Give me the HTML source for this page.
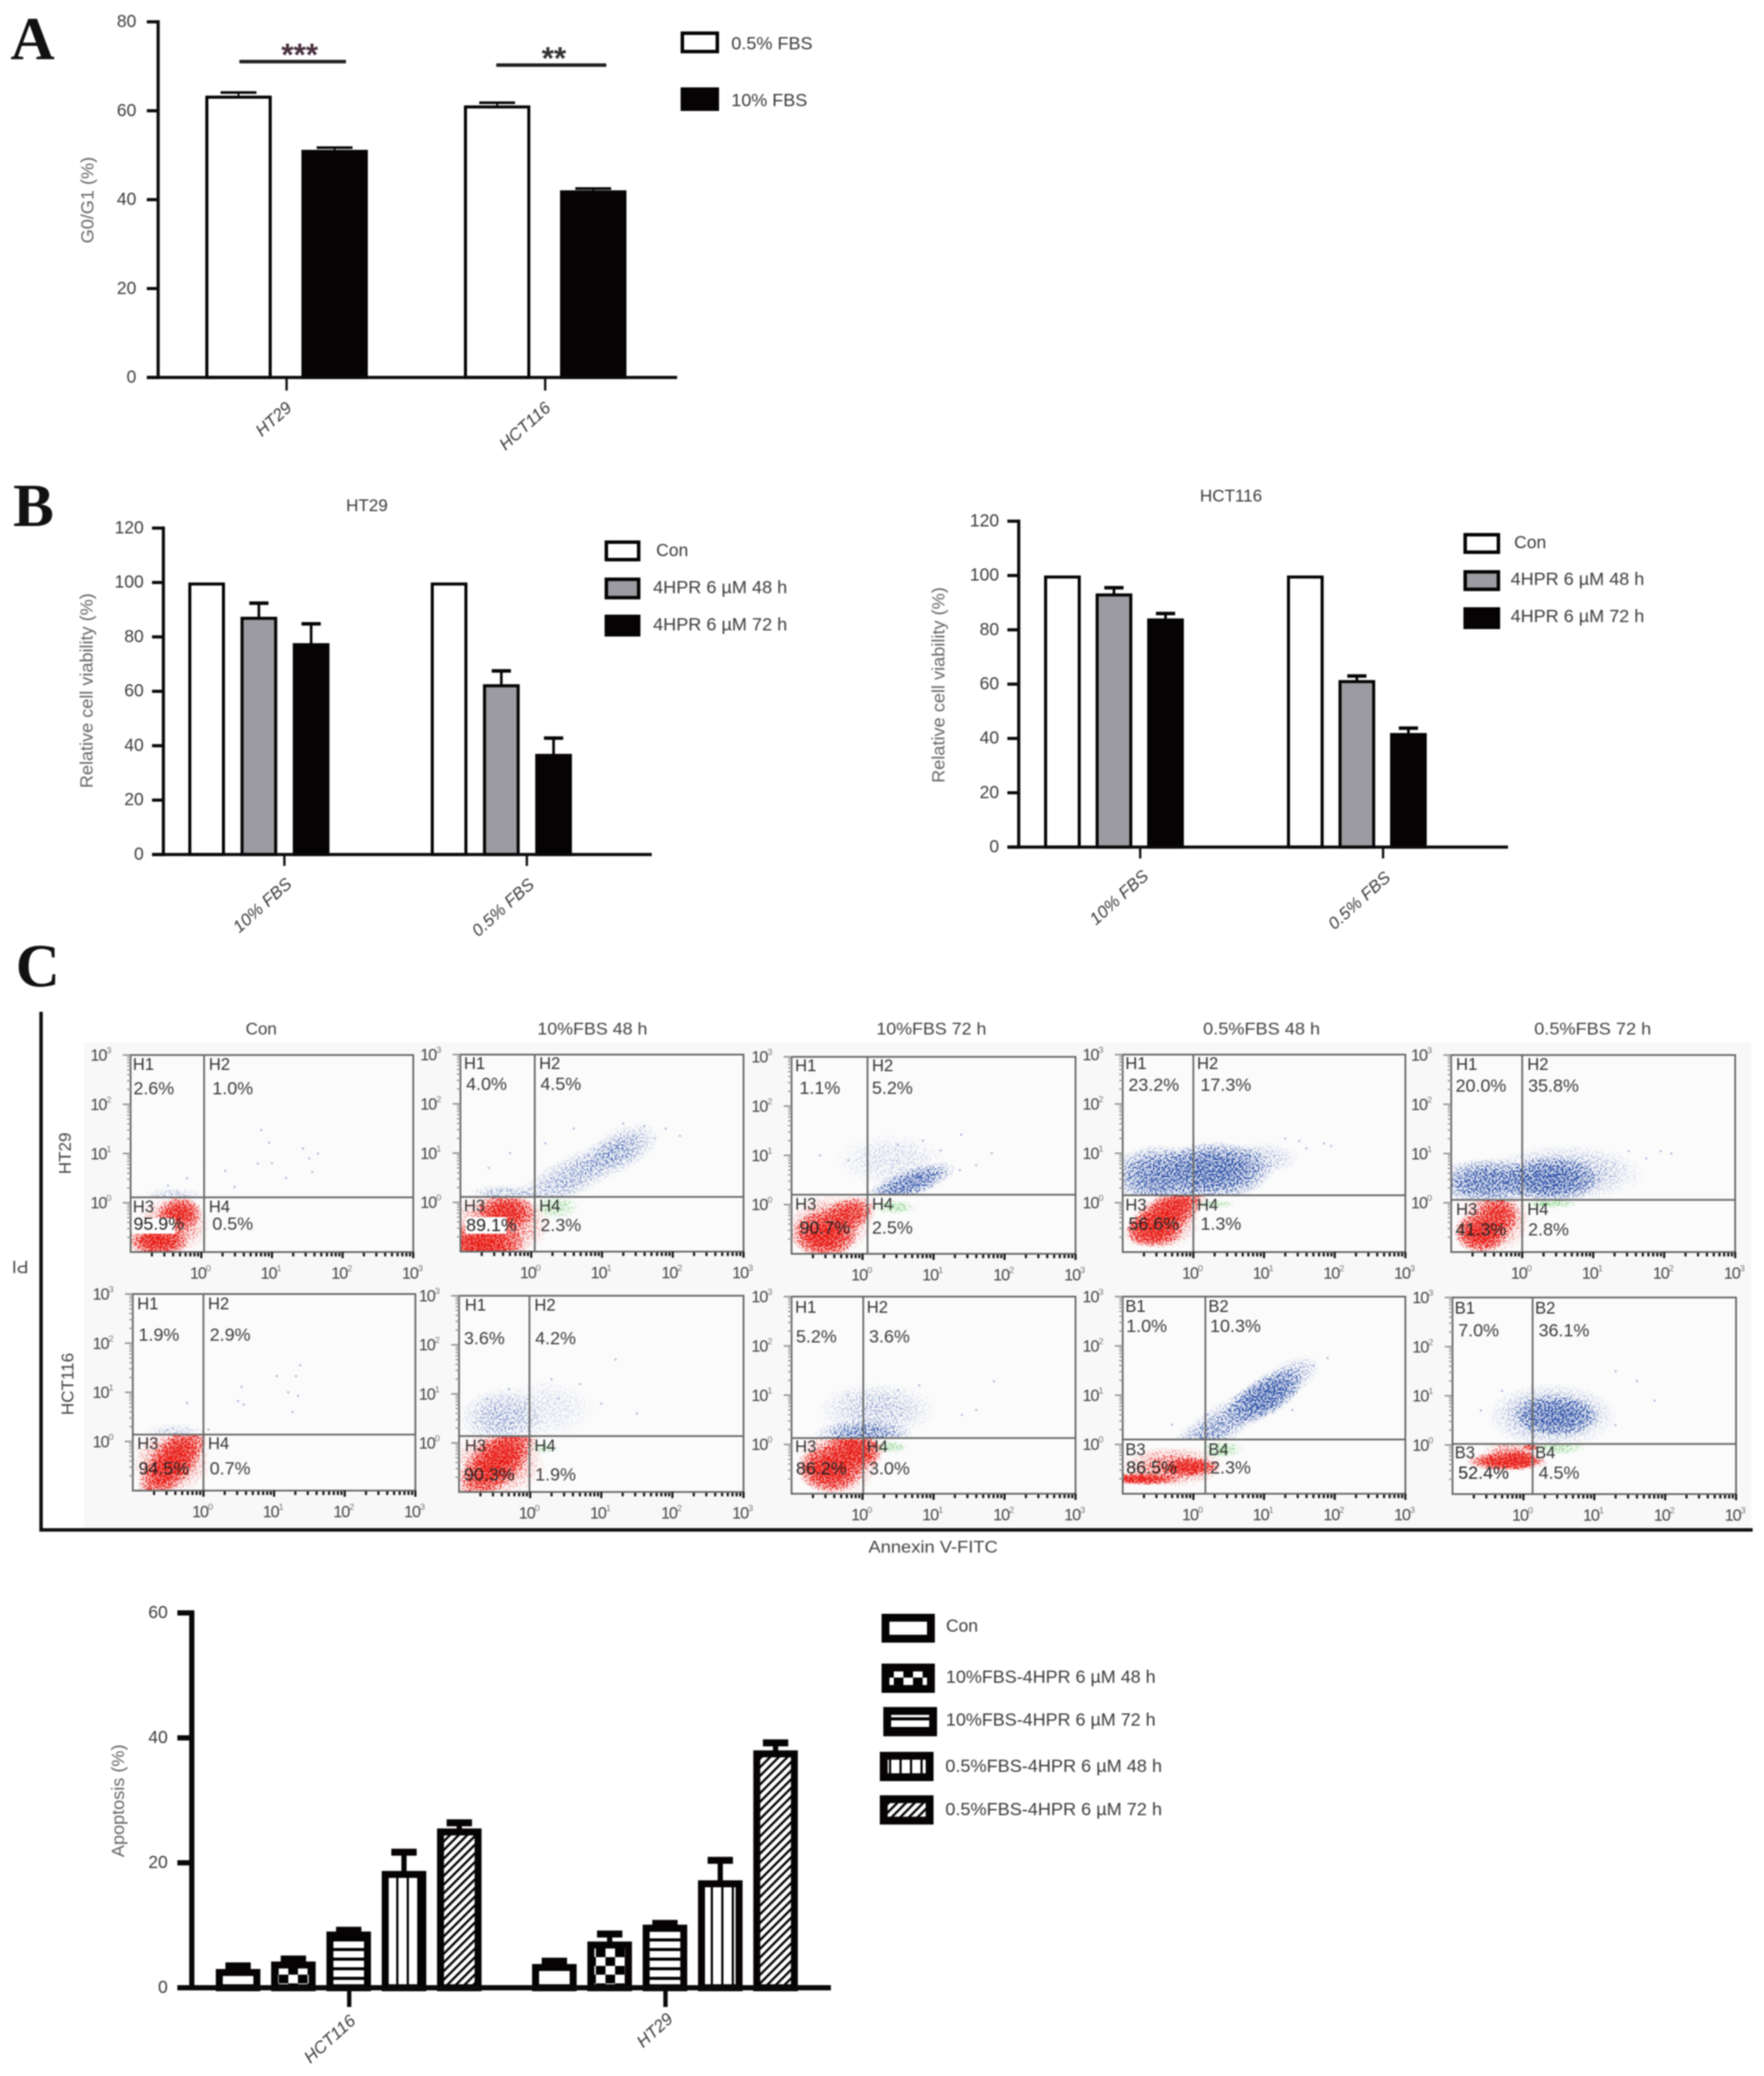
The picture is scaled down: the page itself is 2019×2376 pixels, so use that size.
<!DOCTYPE html>
<html lang="en">
<head>
<meta charset="utf-8">
<title>Cell cycle, viability and apoptosis figure</title>
<style>
html,body{margin:0;padding:0;background:#fff;}
#figure{display:block;filter:blur(0.7px);font-family:"Liberation Sans",sans-serif;}
</style>
</head>
<body>
<svg id="figure" xmlns="http://www.w3.org/2000/svg" width="2019" height="2376" viewBox="0 0 2019 2376">
<defs>
  <radialGradient id="cloud-fade"><stop offset="0" stop-color="#000" stop-opacity="1"/><stop offset="0.35" stop-color="#000" stop-opacity="0.85"/><stop offset="0.7" stop-color="#000" stop-opacity="0.35"/><stop offset="1" stop-color="#000" stop-opacity="0"/></radialGradient>
  <filter id="speckle-red" x="-5%" y="-5%" width="110%" height="110%" color-interpolation-filters="sRGB">
    <feTurbulence type="fractalNoise" baseFrequency="0.55" numOctaves="2" seed="4" result="n"/>
    <feColorMatrix in="n" type="matrix" values="0 0 0 0 0 0 0 0 0 0 0 0 0 0 0 4.5 0 0 0 -2" result="na"/>
    <feComposite in="SourceAlpha" in2="na" operator="arithmetic" k1="3" k2="0.8" k3="0" k4="-0.2" result="mask"/>
    <feFlood flood-color="#e8150f" result="c"/><feComposite in="c" in2="mask" operator="in"/>
  </filter>
  <filter id="speckle-blue" x="-5%" y="-5%" width="110%" height="110%" color-interpolation-filters="sRGB">
    <feTurbulence type="fractalNoise" baseFrequency="0.5" numOctaves="2" seed="9" result="n"/>
    <feColorMatrix in="n" type="matrix" values="0 0 0 0 0 0 0 0 0 0 0 0 0 0 0 5 0 0 0 -2.3" result="na"/>
    <feComposite in="SourceAlpha" in2="na" operator="arithmetic" k1="2.6" k2="0.3" k3="0" k4="-0.08" result="mask"/>
    <feFlood flood-color="#2a4ea6" result="c"/><feComposite in="c" in2="mask" operator="in"/>
  </filter>
  <filter id="speckle-green" x="-5%" y="-5%" width="110%" height="110%" color-interpolation-filters="sRGB">
    <feTurbulence type="fractalNoise" baseFrequency="0.5" numOctaves="2" seed="2" result="n"/>
    <feColorMatrix in="n" type="matrix" values="0 0 0 0 0 0 0 0 0 0 0 0 0 0 0 5 0 0 0 -2.3" result="na"/>
    <feComposite in="SourceAlpha" in2="na" operator="arithmetic" k1="2.6" k2="0.3" k3="0" k4="-0.08" result="mask"/>
    <feFlood flood-color="#8fd68f" result="c"/><feComposite in="c" in2="mask" operator="in"/>
  </filter>
  <pattern id="fill-check" patternUnits="userSpaceOnUse" width="22" height="20"><rect width="22" height="20" fill="#000"/><rect width="11" height="10" fill="#fff"/><rect x="11" y="10" width="11" height="10" fill="#fff"/></pattern>
  <pattern id="fill-hlines" patternUnits="userSpaceOnUse" width="11" height="11"><rect width="11" height="11" fill="#fff"/><rect y="7.5" width="11" height="3.5" fill="#000"/></pattern>
  <pattern id="fill-vlines" patternUnits="userSpaceOnUse" width="12" height="12"><rect width="12" height="12" fill="#fff"/><rect x="9.5" width="2.5" height="12" fill="#000"/></pattern>
  <pattern id="fill-diag" patternUnits="userSpaceOnUse" width="7" height="7" patternTransform="rotate(45)"><rect width="7" height="7" fill="#fff"/><rect width="2.6" height="7" fill="#000"/></pattern>
</defs>

<rect width="2019" height="2376" fill="#fff"/>

<text x="12" y="68" font-family="'Liberation Serif',serif" font-weight="700" font-size="70" fill="#111">A</text>
<text x="15" y="602" font-family="'Liberation Serif',serif" font-weight="700" font-size="70" fill="#111">B</text>
<text x="18" y="1129" font-family="'Liberation Serif',serif" font-weight="700" font-size="70" fill="#111">C</text>

<g>
  <rect x="274" y="68.5" width="122" height="4" fill="#222"/>
  <text x="343" y="75" text-anchor="middle" font-weight="700" font-size="36" fill="#4a3040">***</text>
  <rect x="568" y="72.5" width="126" height="4" fill="#222"/>
  <text x="634" y="79" text-anchor="middle" font-weight="700" font-size="36" fill="#333">**</text>
</g>

<g>
  <rect x="96" y="1193" width="1908" height="556" fill="#f8f8f8"/>
  <rect x="45" y="1158" width="4" height="595" fill="#111"/>
  <rect x="47" y="1749" width="1959" height="4" fill="#111"/>
  <text x="1068" y="1771" text-anchor="middle" dominant-baseline="central" font-size="19.5" textLength="148" lengthAdjust="spacingAndGlyphs" fill="#444">Annexin V-FITC</text>
  <text transform="rotate(180 23 1449)" x="23" y="1449" text-anchor="middle" dominant-baseline="central" font-size="20" fill="#444">PI</text>
  <text transform="rotate(-90 75 1320)" x="75" y="1320" text-anchor="middle" dominant-baseline="central" font-size="19.5" fill="#444">HT29</text>
  <text transform="rotate(-90 78 1584)" x="78" y="1584" text-anchor="middle" dominant-baseline="central" font-size="19.5" fill="#444">HCT116</text>
  <text x="299" y="1178" text-anchor="middle" dominant-baseline="central" font-size="19.5" fill="#444">Con</text>
  <text x="678" y="1178" text-anchor="middle" dominant-baseline="central" font-size="19.5" textLength="126" lengthAdjust="spacingAndGlyphs" fill="#444">10%FBS 48 h</text>
  <text x="1066" y="1178" text-anchor="middle" dominant-baseline="central" font-size="19.5" textLength="126" lengthAdjust="spacingAndGlyphs" fill="#444">10%FBS 72 h</text>
  <text x="1444" y="1178" text-anchor="middle" dominant-baseline="central" font-size="19.5" textLength="134" lengthAdjust="spacingAndGlyphs" fill="#444">0.5%FBS 48 h</text>
  <text x="1823" y="1178" text-anchor="middle" dominant-baseline="central" font-size="19.5" textLength="134" lengthAdjust="spacingAndGlyphs" fill="#444">0.5%FBS 72 h</text>
</g>
</svg>

<script>
/* ---------- Panel A data ---------- */
const aCategories = ['HT29', 'HCT116'];
const aSeriesNames = ['0.5% FBS', '10% FBS'];
const aValues05 = [63.4, 61.2];
const aValues10 = [51.2, 42.1];
const aErrors05 = [0.7, 0.6];
const aErrors10 = [0.5, 0.4];
const aTickLabels = [0, 20, 40, 60, 80];

/* ---------- Panel B data ---------- */
const viabilityCategories = ['10% FBS', '0.5% FBS'];
const viabilitySeriesNames = ['Con', '4HPR 6 µM 48 h', '4HPR 6 µM 72 h'];
const viabilityTickLabels = [0, 20, 40, 60, 80, 100, 120];
const ht29Con = [100, 100];
const ht2948h = [87.4, 62.6];
const ht2972h = [77.7, 37];
const ht29ConErr = [0, 0];
const ht2948hErr = [5, 4.9];
const ht2972hErr = [7.1, 5.8];
const hct116Con = [100, 100];
const hct11648h = [93.4, 61.5];
const hct11672h = [84.2, 42];
const hct116ConErr = [0, 0];
const hct11648hErr = [2.1, 1.5];
const hct11672hErr = [1.8, 1.8];

/* ---------- Apoptosis chart data ---------- */
const apoCategories = ['HCT116', 'HT29'];
const apoSeriesNames = ['Con', '10%FBS-4HPR 6 µM 48 h', '10%FBS-4HPR 6 µM 72 h', '0.5%FBS-4HPR 6 µM 48 h', '0.5%FBS-4HPR 6 µM 72 h'];
const apoTickLabels = [0, 20, 40, 60];
const apoCon = [3.0, 3.8];
const apo10F48 = [4.2, 7.4];
const apo10F72 = [9.0, 10.1];
const apo05F48 = [18.7, 17.2];
const apo05F72 = [25.5, 38.0];
const apoConErr = [0.5, 0.45];
const apo10F48Err = [0.4, 1.2];
const apo10F72Err = [0.2, 0.2];
const apo05F48Err = [3.0, 3.2];
const apo05F72Err = [0.9, 1.2];

/* ---------- Flow cytometry data (log10 units, percentages) ---------- */
const flowGateX = [0.04, 0.05, 0.07, 0, 0, 0, -0.01, 0.01, 0.17, 0.13];
const flowGateY = [0.11, 0.11, 0.2, 0.15, 0.06, 0.14, 0.14, 0.13, 0.1, 0.02];
const flowGateNames = [
  ['H1','H2','H3','H4'],['H1','H2','H3','H4'],['H1','H2','H3','H4'],['H1','H2','H3','H4'],['H1','H2','H3','H4'],
  ['H1','H2','H3','H4'],['H1','H2','H3','H4'],['H1','H2','H3','H4'],['B1','B2','B3','B4'],['B1','B2','B3','B4']
];
const flowPercents = [
  ['2.6%','1.0%','95.9%','0.5%'],['4.0%','4.5%','89.1%','2.3%'],['1.1%','5.2%','90.7%','2.5%'],['23.2%','17.3%','56.6%','1.3%'],['20.0%','35.8%','41.3%','2.8%'],
  ['1.9%','2.9%','94.5%','0.7%'],['3.6%','4.2%','90.3%','1.9%'],['5.2%','3.6%','86.2%','3.0%'],['1.0%','10.3%','86.5%','2.3%'],['7.0%','36.1%','52.4%','4.5%']
];
const flowTickLabels = [0, 1, 2, 3];
/* each cloud: centre log x, centre log y, spread x, spread y (decades), tilt deg, density */
const flowRedClouds = [
  [[-0.62,-0.78,0.45,0.34,0,1],[-0.3,-0.2,0.32,0.34,0,0.85],[-0.4,-0.45,0.62,0.7,0,0.36]],
  [[-0.68,-0.86,0.62,0.48,0,1],[-0.35,-0.19,0.44,0.36,0,0.9],[-0.45,-0.45,0.85,0.8,0,0.38]],
  [[-0.54,-0.62,0.48,0.5,0,1],[-0.2,-0.2,0.44,0.36,-20,0.7],[-0.45,-0.4,0.72,0.72,0,0.36]],
  [[-0.38,-0.24,0.72,0.42,-35,1],[-0.55,-0.55,0.42,0.38,0,0.9],[-0.4,-0.4,0.62,0.68,0,0.3]],
  [[-0.59,-0.62,0.4,0.42,0,1],[-0.35,-0.25,0.32,0.4,0,0.7],[-0.4,-0.35,0.62,0.82,0,0.36]],
  [[-0.44,-0.42,0.72,0.44,-50,1],[-0.45,-0.4,0.68,0.82,0,0.34]],
  [[-0.47,-0.38,0.74,0.5,-45,1],[-0.45,-0.4,0.8,0.85,0,0.34]],
  [[-0.45,-0.5,0.48,0.5,0,1],[-0.12,-0.13,0.44,0.44,0,0.95],[-0.35,-0.35,0.7,0.85,0,0.36]],
  [[-0.75,-0.7,0.6,0.13,0,1],[-0.06,-0.46,0.44,0.2,0,1],[-0.3,-0.45,0.88,0.5,0,0.36]],
  [[-0.23,-0.34,0.62,0.2,0,1],[-0.05,-0.3,0.26,0.2,0,1],[-0.2,-0.2,0.48,0.34,0,0.36],[0.1,-0.05,0.14,0.08,0,0.7]]
];
const flowBlueClouds = [
  [[-0.4,0.17,0.5,0.16,0,0.2]],
  [[0.6,0.55,1.1,0.48,-27,0.3],[1.3,1.1,0.62,0.5,-27,0.28],[-0.4,0.2,0.55,0.18,0,0.25]],
  [[0.66,0.42,0.72,0.3,-20,0.7],[0.4,0.9,1.0,0.7,0,0.14]],
  [[0.3,0.65,0.85,0.62,0,0.95],[-0.5,0.55,0.74,0.66,0,0.7],[1.0,0.9,0.6,0.4,0,0.2]],
  [[0.4,0.47,0.72,0.46,0,1],[-0.5,0.43,0.8,0.5,0,0.7],[0.6,0.6,1.25,0.66,0,0.3]],
  [[-0.4,0.2,0.5,0.2,0,0.18]],
  [[-0.45,0.5,0.66,0.66,0,0.24],[0.2,0.7,1.0,0.8,0,0.12]],
  [[0,0.2,0.74,0.3,0,0.5],[0.2,0.7,1.0,0.66,0,0.22]],
  [[1.0,0.95,0.62,0.42,-30,0.95],[0.3,0.3,1.1,0.45,-35,0.4],[1.3,1.3,0.62,0.4,-30,0.34]],
  [[0.46,0.6,0.62,0.42,0,1],[0.4,0.6,1.0,0.72,0,0.38]]
];
const flowGreenClouds = [
  [], [[0.35,-0.1,0.36,0.26,0,0.5]], [[0.45,-0.05,0.32,0.16,0,0.6]], [[0.3,-0.03,0.34,0.1,0,0.45]], [[0.4,-0.02,0.42,0.1,0,0.65]],
  [], [[0.2,-0.1,0.24,0.14,0,0.4]], [[0.4,-0.05,0.26,0.14,0,0.6]], [[0.4,-0.1,0.36,0.2,0,0.5]], [[0.5,-0.05,0.42,0.16,0,0.55]]
];
/* sparse events: log x, log y */
const flowSparseEvents = [
  [[0.85,1.48],[0.96,1.22],[1.44,1.1],[1.65,1.0],[1.53,0.9],[1.57,0.62],[1.0,0.8],[0.8,0.8],[0.34,0.65],[0.47,0.32],[1.2,0.5],[0.04,0.8],[-0.2,0.5],[-0.47,0.35]],
  [[1.9,1.5],[1.75,1.3],[1.6,1.55],[1.3,1.6],[2.1,1.35],[0.6,1.5],[-0.3,1.0],[0.2,1.2],[-0.6,0.7]],
  [[1.82,1.04],[1.39,1.42],[1.37,0.7],[0.85,1.3],[0.5,1.2],[-0.2,0.9],[-0.6,1.0],[1.6,0.8],[1.1,1.1]],
  [[1.85,1.2],[1.95,1.15],[1.6,1.1],[1.5,1.25],[1.3,1.3]],
  [[2.1,1.0],[1.95,1.05],[1.75,0.9],[1.5,1.05],[1.3,0.8]],
  [[1.04,1.33],[1.37,1.55],[1.31,1.33],[1.2,1.0],[1.34,0.93],[1.26,0.6],[0.54,1.11],[0.57,0.75],[0.49,0.82],[-0.23,0.78],[0.07,0.24]],
  [[1.2,1.7],[0.7,1.2],[0.4,0.9],[-0.3,1.1],[-0.6,0.9],[1.0,0.8],[0.3,1.3],[1.5,0.6]],
  [[1.85,1.28],[1.6,0.7],[1.4,0.6],[0.8,1.2],[0.5,1.1],[-0.2,1.0]],
  [[1.9,1.75],[1.7,1.6],[0.2,0.6],[-0.3,0.4],[1.4,0.7]],
  [[1.6,1.3],[1.85,0.9],[1.3,1.5],[-0.3,1.1],[-0.6,0.7],[1.3,0.4]]
];

/* ---------- Layout (geometry only) ---------- */
const flowFrames = [
  {l:149.5,t:1207.5,r:473,b:1433},{l:527,t:1207,r:851,b:1432.5},{l:906,t:1209.6,r:1231,b:1435},{l:1285,t:1207,r:1608.5,b:1433},{l:1661,t:1207.5,r:1986,b:1433},
  {l:152,t:1481,r:475.4,b:1706},{l:525.4,t:1483,r:851,b:1707.6},{l:906,t:1484,r:1231,b:1709.6},{l:1285,t:1484,r:1608.5,b:1709.6},{l:1662.5,t:1485,r:1987,b:1710}
];
const flowTextLayout = [
  {nl:152,nr:239,pl:152.7,pr:243,y1:1219,y2:1246,y3:1382,y4:1401},
  {nl:531,nr:617,pl:533.5,pr:618.5,y1:1218,y2:1241,y3:1381,y4:1402.6},
  {nl:910,nr:998,pl:915,pr:998,y1:1220.6,y2:1245.5,y3:1379,y4:1405.5},
  {nl:1288,nr:1370,pl:1291.5,pr:1374,y1:1218,y2:1242,y3:1380,y4:1401},
  {nl:1666.5,nr:1748,pl:1666,pr:1749,y1:1219,y2:1243,y3:1385,y4:1407.5},
  {nl:157,nr:238,pl:158.5,pr:240,y1:1493,y2:1528,y3:1653,y4:1681},
  {nl:532,nr:611.6,pl:531,pr:612.5,y1:1494.5,y2:1532,y3:1655.7,y4:1688},
  {nl:910,nr:992,pl:911,pr:994.6,y1:1497,y2:1530,y3:1656.5,y4:1681},
  {nl:1288,nr:1383,pl:1289,pr:1385,y1:1496,y2:1518,y3:1660,y4:1680},
  {nl:1665,nr:1757,pl:1669,pr:1761,y1:1498,y2:1523,y3:1663.5,y4:1686}
];
/* white label backings that cut into the red population in the first two plots */
const flowLabelBackings = {
  0: {x: 152, y: 1394, w: 48, h: 18},
  1: {x: 533, y: 1393, w: 47, h: 19}
};

const svg = document.getElementById('figure');
const NS = 'http://www.w3.org/2000/svg';

function mk(tag, attrs, parent, content) {
  const node = document.createElementNS(NS, tag);
  for (const k in attrs) node.setAttribute(k, attrs[k]);
  if (content !== undefined) node.textContent = content;
  parent.appendChild(node);
  return node;
}

function drawBarChart(cfg) {
  const g = mk('g', {}, svg);
  
  
  const yPx = v => cfg.y0 - (v / cfg.max) * (cfg.y0 - cfg.yTop);
  const barLeft = (gi, si) => cfg.x0 + gi * cfg.groupStep + si * cfg.barStep;
  const half = cfg.sw / 2;

  cfg.series.forEach((s, si) => {
    s.values.forEach((v, gi) => {
      const left = barLeft(gi, si);
      const top = yPx(v);
      const e = s.errors[gi];
      if (e > 0) {
        const errLine = mk('rect', {x: left + cfg.barW / 2 - cfg.errW / 2, y: yPx(v + e), width: cfg.errW, height: Math.max(0, top - yPx(v + e) + 2), fill: '#060304'}, g);
        
        
        const errCap = mk('rect', {x: left + cfg.barW / 2 - cfg.capW / 2, y: yPx(v + e) - cfg.capH / 2, width: cfg.capW, height: cfg.capH, fill: '#060304'}, g);
        
        
      }
      const bar = mk('rect', {x: left + half, y: top + half, width: cfg.barW - cfg.sw, height: Math.max(0, cfg.y0 - top - half), fill: s.fill, stroke: '#060304', 'stroke-width': cfg.sw}, g);
      
      
    });
  });

  const yAxis = mk('rect', {x: cfg.axisX - cfg.axisW / 2, y: cfg.yTop - cfg.axisW / 2, width: cfg.axisW, height: cfg.y0 - cfg.yTop + cfg.axisW, fill: '#0a0a0a'}, g);
  
  
  const xAxis = mk('rect', {x: cfg.xStart, y: cfg.y0 - cfg.axisW / 2, width: cfg.xEnd - cfg.xStart, height: cfg.axisW, fill: '#0a0a0a'}, g);
  
  

  cfg.ticks.forEach(t => {
    const tick = mk('rect', {x: cfg.xStart, y: yPx(t) - cfg.axisW / 2, width: cfg.axisX - cfg.xStart, height: cfg.axisW, fill: '#0a0a0a'}, g);
    
    
    const label = mk('text', {x: cfg.tickLabelX, y: yPx(t), 'text-anchor': 'end', 'dominant-baseline': 'central', 'font-size': cfg.fontSize, fill: '#3c3c3c'}, g, String(t));
    
    
  });

  cfg.categories.forEach((c, gi) => {
    const tx = cfg.x0 + gi * cfg.groupStep + cfg.catTickOffset;
    const tick = mk('rect', {x: tx - cfg.axisW / 2 + 0.5, y: cfg.y0, width: cfg.axisW - 1, height: cfg.catTickLen, fill: '#0a0a0a'}, g);
    
    
    const lx = tx + cfg.catLabelDx[gi];
    const ly = cfg.y0 + cfg.catLabelDy[gi];
    const label = mk('text', {x: lx, y: ly, 'text-anchor': 'middle', 'dominant-baseline': 'central', 'font-size': 19.5, 'font-style': 'italic', fill: '#3c3c3c', transform: 'rotate(-42 ' + lx + ' ' + ly + ')'}, g, c);
    
    
  });

  const yt = cfg.yTitle;
  const yTitle = mk('text', {x: yt.x, y: yt.y, 'text-anchor': 'middle', 'dominant-baseline': 'central', 'font-size': 20, fill: '#666', textLength: yt.len, lengthAdjust: 'spacingAndGlyphs', transform: 'rotate(-90 ' + yt.x + ' ' + yt.y + ')'}, g, yt.text);
  
  

  if (cfg.title) {
    const title = mk('text', {x: cfg.title.x, y: cfg.title.y, 'text-anchor': 'middle', 'dominant-baseline': 'central', 'font-size': 19.5, fill: '#3c3c3c'}, g, cfg.title.text);
    
    
  }

  cfg.series.forEach((s, si) => {
    const lg = cfg.legend[si];
    const swatch = mk('rect', {x: lg.x + cfg.legendSw / 2, y: lg.y + cfg.legendSw / 2, width: lg.w - cfg.legendSw, height: lg.h - cfg.legendSw, fill: s.fill, stroke: '#060304', 'stroke-width': cfg.legendSw}, g);
    
    
    const attrs = {x: lg.tx, y: lg.ty, 'dominant-baseline': 'central', 'font-size': cfg.legendFont, fill: '#3c3c3c'};
    if (lg.tw) { attrs.textLength = lg.tw; attrs.lengthAdjust = 'spacingAndGlyphs'; }
    const entry = mk('text', attrs, g, s.name);
    
    
  });
}

drawBarChart({
  name: 'panel-a-g0g1-chart', categories: aCategories, ticks: aTickLabels, max: 80,
  series: [
    {name: aSeriesNames[0], values: aValues05, errors: aErrors05, fill: '#fff'},
    {name: aSeriesNames[1], values: aValues10, errors: aErrors10, fill: '#060304'}
  ],
  x0: 235, barStep: 110, groupStep: 296, barW: 76, sw: 3.5, errW: 2, capW: 41, capH: 3,
  axisX: 181, axisW: 3.6, xStart: 168, xEnd: 775, yTop: 25, y0: 432, tickLabelX: 156, fontSize: 20,
  catTickOffset: 93, catTickLen: 15, catLabelDx: [-14.5, -23], catLabelDy: [48, 56],
  yTitle: {text: 'G0/G1 (%)', x: 101, y: 229, len: 99},
  legendSw: 4, legendFont: 20.5,
  legend: [
    {x: 779, y: 36, w: 44, h: 25, tx: 837, ty: 50, tw: 93},
    {x: 779, y: 100, w: 44, h: 27, tx: 837, ty: 115, tw: 87}
  ]
});

drawBarChart({
  name: 'panel-b-ht29-chart', categories: viabilityCategories, ticks: viabilityTickLabels, max: 120,
  series: [
    {name: viabilitySeriesNames[0], values: ht29Con, errors: ht29ConErr, fill: '#fff'},
    {name: viabilitySeriesNames[1], values: ht2948h, errors: ht2948hErr, fill: '#9b9ba1'},
    {name: viabilitySeriesNames[2], values: ht2972h, errors: ht2972hErr, fill: '#060304'}
  ],
  x0: 215.5, barStep: 59.8, groupStep: 277.5, barW: 42, sw: 3.5, errW: 3, capW: 22, capH: 4,
  axisX: 187, axisW: 3.6, xStart: 174, xEnd: 746, yTop: 604.4, y0: 978, tickLabelX: 164.5, fontSize: 20,
  catTickOffset: 110, catTickLen: 13, catLabelDx: [-25, -27], catLabelDy: [58.5, 61],
  yTitle: {text: 'Relative cell viability (%)', x: 100, y: 790.5, len: 223},
  title: {text: 'HT29', x: 420, y: 579},
  legendSw: 4, legendFont: 20,
  legend: [
    {x: 692, y: 618.5, w: 41, h: 24, tx: 751, ty: 630.5},
    {x: 692, y: 661, w: 41, h: 25, tx: 747.5, ty: 673, tw: 153.5},
    {x: 692, y: 703.5, w: 41, h: 25, tx: 747.5, ty: 715.5, tw: 153.5}
  ]
});

drawBarChart({
  name: 'panel-b-hct116-chart', categories: viabilityCategories, ticks: viabilityTickLabels, max: 120,
  series: [
    {name: viabilitySeriesNames[0], values: hct116Con, errors: hct116ConErr, fill: '#fff'},
    {name: viabilitySeriesNames[1], values: hct11648h, errors: hct11648hErr, fill: '#9b9ba1'},
    {name: viabilitySeriesNames[2], values: hct11672h, errors: hct11672hErr, fill: '#060304'}
  ],
  x0: 1195, barStep: 59, groupStep: 278, barW: 42, sw: 3.5, errW: 3, capW: 22, capH: 4,
  axisX: 1166, axisW: 3.6, xStart: 1153, xEnd: 1726, yTop: 596.5, y0: 969.5, tickLabelX: 1143.5, fontSize: 20,
  catTickOffset: 110, catTickLen: 13, catLabelDx: [-24, -27], catLabelDy: [58, 61.5],
  yTitle: {text: 'Relative cell viability (%)', x: 1075, y: 784, len: 224},
  title: {text: 'HCT116', x: 1409, y: 568},
  legendSw: 4, legendFont: 20,
  legend: [
    {x: 1675, y: 610, w: 42, h: 24, tx: 1733, ty: 621.5},
    {x: 1675, y: 652.5, w: 42, h: 24, tx: 1729, ty: 663.5, tw: 153},
    {x: 1675, y: 695, w: 42, h: 25, tx: 1729, ty: 706, tw: 153}
  ]
});

drawBarChart({
  name: 'apoptosis-chart', categories: apoCategories, ticks: apoTickLabels, max: 60,
  series: [
    {name: apoSeriesNames[0], values: apoCon, errors: apoConErr, fill: '#fff'},
    {name: apoSeriesNames[1], values: apo10F48, errors: apo10F48Err, fill: 'url(#fill-check)'},
    {name: apoSeriesNames[2], values: apo10F72, errors: apo10F72Err, fill: 'url(#fill-hlines)'},
    {name: apoSeriesNames[3], values: apo05F48, errors: apo05F48Err, fill: 'url(#fill-vlines)'},
    {name: apoSeriesNames[4], values: apo05F72, errors: apo05F72Err, fill: 'url(#fill-diag)'}
  ],
  x0: 247, barStep: 63.3, groupStep: 362, barW: 51, sw: 8, errW: 6, capW: 29, capH: 8,
  axisX: 219.5, axisW: 6, xStart: 203, xEnd: 951, yTop: 1846, y0: 2275, tickLabelX: 192, fontSize: 20,
  catTickOffset: 152.7, catTickLen: 22, catLabelDx: [-22, -12], catLabelDy: [59, 49],
  yTitle: {text: 'Apoptosis (%)', x: 136, y: 2061, len: 129},
  legendSw: 9, legendFont: 20,
  legend: [
    {x: 1009, y: 1847, w: 61, h: 33, tx: 1082.7, ty: 1861.7},
    {x: 1009, y: 1904, w: 61, h: 33.5, tx: 1082.7, ty: 1920, tw: 240},
    {x: 1011, y: 1953.7, w: 61.5, h: 33.5, tx: 1082.7, ty: 1969, tw: 240},
    {x: 1007, y: 2005, w: 61.5, h: 33.5, tx: 1082, ty: 2022, tw: 248},
    {x: 1007, y: 2054.7, w: 61.5, h: 33.5, tx: 1082, ty: 2071.7, tw: 248}
  ]
});

/* ---------- Flow cytometry panels ---------- */
function drawCloudGroup(parent, clouds, clipId, filterId, xPx, yPx, dx, dy) {
  if (!clouds.length) return;
  const clip = mk('g', {'clip-path': 'url(#' + clipId + ')'}, parent);
  
  
  const speck = mk('g', {filter: 'url(#' + filterId + ')'}, clip);
  
  
  clouds.forEach(c => {
    const cx = xPx(c[0]);
    const cy = yPx(c[1]);
    const e = mk('ellipse', {cx: cx, cy: cy, rx: c[2] * dx, ry: c[3] * dy, fill: 'url(#cloud-fade)', opacity: c[5], transform: 'rotate(' + c[4] + ' ' + cx + ' ' + cy + ')'}, speck);
    
    
  });
}

const minorMultipliers = [2, 3, 4, 5, 6, 7, 8, 9];

flowFrames.forEach((f, i) => {
  const g = mk('g', {}, svg);
  
  
  const dx = (f.r - f.l) / 4;
  const dy = (f.b - f.t) / 4;
  const xPx = v => f.r - (3 - v) * dx;
  const yPx = v => f.t + (3 - v) * dy;
  const gx = xPx(flowGateX[i]);
  const gy = yPx(flowGateY[i]);

  const plotBg = mk('rect', {x: f.l, y: f.t, width: f.r - f.l, height: f.b - f.t, fill: '#fbfbfb'}, g);
  
  

  const defs = svg.querySelector('defs');
  const lower = mk('clipPath', {id: 'lower-' + i}, defs);
  mk('rect', {x: f.l, y: gy, width: f.r - f.l, height: f.b - gy}, lower);
  const upper = mk('clipPath', {id: 'upper-' + i}, defs);
  mk('rect', {x: f.l, y: f.t, width: f.r - f.l, height: gy - f.t}, upper);

  flowSparseEvents[i].forEach(p => {
    const dot = mk('circle', {cx: xPx(p[0]), cy: yPx(p[1]), r: 1.2, fill: '#6b7fbb', opacity: 0.6}, g);
    
    
  });
  drawCloudGroup(g, flowBlueClouds[i], 'upper-' + i, 'speckle-blue', xPx, yPx, dx, dy);
  drawCloudGroup(g, flowGreenClouds[i], 'lower-' + i, 'speckle-green', xPx, yPx, dx, dy);
  drawCloudGroup(g, flowRedClouds[i], 'lower-' + i, 'speckle-red', xPx, yPx, dx, dy);

  if (flowLabelBackings[i]) {
    const bk = flowLabelBackings[i];
    const backing = mk('rect', {x: bk.x, y: bk.y, width: bk.w, height: bk.h, fill: '#fdfdfd'}, g);
    
    
  }

  const box = mk('rect', {x: f.l, y: f.t, width: f.r - f.l, height: f.b - f.t, fill: 'none', stroke: '#666', 'stroke-width': 2}, g);
  
  
  const vGate = mk('line', {x1: gx, x2: gx, y1: f.t, y2: f.b, stroke: '#666', 'stroke-width': 2}, g);
  
  
  const hGate = mk('line', {x1: f.l, x2: f.r, y1: gy, y2: gy, stroke: '#666', 'stroke-width': 2}, g);
  
  

  for (let d = -1; d < 3; d++) {
    minorMultipliers.forEach(m => {
      const lv = d + Math.log10(m);
      const bt = mk('line', {x1: xPx(lv), x2: xPx(lv), y1: f.b + 1, y2: f.b + 5, stroke: '#111', 'stroke-width': 2.4}, g);
      
      
      const lt = mk('line', {x1: f.l - 4, x2: f.l, y1: yPx(lv), y2: yPx(lv), stroke: '#999', 'stroke-width': 1.6}, g);
      
      
    });
  }

  flowTickLabels.forEach(v => {
    const bt = mk('line', {x1: xPx(v), x2: xPx(v), y1: f.b, y2: f.b + 7, stroke: '#111', 'stroke-width': 2.4}, g);
    
    
    const lt = mk('line', {x1: f.l - 9, x2: f.l, y1: yPx(v), y2: yPx(v), stroke: '#888', 'stroke-width': 1.6}, g);
    
    

    const xl = mk('text', {x: xPx(v) - 13, y: f.b + 24, 'dominant-baseline': 'central', 'font-size': 18.5, 'letter-spacing': -1.2, fill: '#444'}, g, '10');
    
    
    const xs = mk('tspan', {dy: -5, 'font-size': 10.5, fill: '#777'}, xl, String(v));
    
    

    const yl = mk('text', {x: f.l - 46, y: yPx(v), 'dominant-baseline': 'central', 'font-size': 18.5, 'letter-spacing': -1.2, fill: '#444'}, g, '10');
    
    
    const ys = mk('tspan', {dy: -5, 'font-size': 10.5, fill: '#777'}, yl, String(v));
    
    
  });

  const L = flowTextLayout[i];
  const nameX = [L.nl, L.nr, L.nl, L.nr];
  const nameY = [L.y1, L.y1, L.y3, L.y3];
  const pctX = [L.pl, L.pr, L.pl, L.pr];
  const pctY = [L.y2, L.y2, L.y4, L.y4];
  for (let q = 0; q < 4; q++) {
    const n = mk('text', {x: nameX[q], y: nameY[q], 'dominant-baseline': 'central', 'font-size': 19, fill: '#333'}, g, flowGateNames[i][q]);
    
    
    const p = mk('text', {x: pctX[q], y: pctY[q], 'dominant-baseline': 'central', 'font-size': 20.5, fill: q === 2 ? '#222' : '#3c3c3c'}, g, flowPercents[i][q]);
    
    
  }
});
</script>
</body>
</html>
